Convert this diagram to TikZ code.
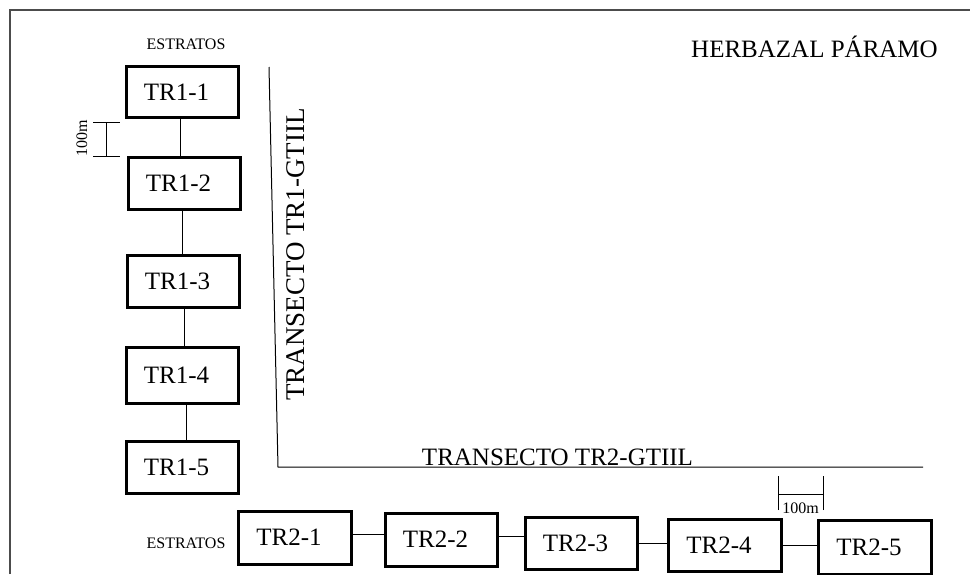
\documentclass[tikz,border=0pt]{standalone}
\usepackage{fontspec}
\setmainfont{Liberation Serif}
\begin{document}
\begin{tikzpicture}[x=1pt,y=-1pt,
  box/.style={draw,line width=3pt,inner sep=0pt,minimum width=112pt,minimum height=52pt,font=\fontsize{25}{25}\selectfont,execute at end node={\hspace*{11pt}}},
  link/.style={line width=0.9pt},
  dim/.style={line width=0.9pt},
  lbl/.style={inner sep=0pt,font=\fontsize{16}{16}\selectfont},
  big/.style={inner sep=0pt,font=\fontsize{25}{25}\selectfont},
  frameline/.style={line width=2pt,draw=black!70}]
\useasboundingbox (0,0) rectangle (970,574);
% frame
\draw[frameline] (10,574) -- (10,10) -- (970,10);
% title
\node[big,anchor=base] (title) at (814.5,57) {HERBAZAL PÁRAMO};
% estratos labels
\node[lbl] (est1) at (186,44) {ESTRATOS};
\node[lbl] (est2) at (186,543) {ESTRATOS};
% TR1 column
\node[box,minimum height=51pt] (a1) at (182,92) {TR1-1};
\node[box] (a2) at (184,183) {TR1-2};
\node[box] (a3) at (183,281) {TR1-3};
\node[box,minimum height=56pt] (a4) at (182,375) {TR1-4};
\node[box] (a5) at (182,467) {TR1-5};
\draw[link] ([xshift=-2pt]a1.south) -- ([xshift=-2pt]a1.south |- a2.north);
\draw[link] ([xshift=-2pt]a2.south) -- ([xshift=-2pt]a2.south |- a3.north);
\draw[link] ([xshift=1pt]a3.south) -- ([xshift=1pt]a3.south |- a4.north);
\draw[link] ([xshift=4pt]a4.south) -- ([xshift=4pt]a4.south |- a5.north);
% TR2 row
\node[box,minimum width=113pt,minimum height=53pt] (b1) at (294.5,537.5) {TR2-1};
\node[box,minimum height=53pt] (b2) at (441,539.5) {TR2-2};
\node[box] (b3) at (581,543) {TR2-3};
\node[box,minimum width=113pt] (b4) at (724.5,545) {TR2-4};
\node[box,minimum width=113pt,minimum height=54pt] (b5) at (874.5,547) {TR2-5};
\draw[link] ([yshift=3pt]b1.east) -- ([yshift=3pt]b1.east -| b2.west);
\draw[link] ([yshift=3pt]b2.east) -- ([yshift=3pt]b2.east -| b3.west);
\draw[link] (b3.east) -- (b3.east -| b4.west);
\draw[link] (b4.east) -- (b4.east -| b5.west);
% transect axes
\coordinate (vt) at (269,67);
\coordinate (corner) at (278,467);
\coordinate (hr) at (923,467);
\draw[line width=1pt] (vt) -- (corner) -- (hr);
\node[inner sep=0pt,font=\fontsize{27}{27}\selectfont,rotate=90] (t1) at (296,254.5) {TRANSECTO TR1-GTIIL};
\node[big,anchor=base] (t2) at (557.5,465) {TRANSECTO TR2-GTIIL};
% dimension marks: vertical
\coordinate (d1a) at (106,122);
\coordinate (d1b) at (106,156);
\draw[dim] (d1a) -- (d1b);
\draw[dim] ([xshift=-13pt]d1a) -- ([xshift=14pt]d1a);
\draw[dim] ([xshift=-13pt]d1b) -- ([xshift=14pt]d1b);
\node[lbl,rotate=90] (m1) at (82,138) {100m};
% dimension marks: horizontal
\coordinate (d2a) at (778,494);
\coordinate (d2b) at (823,494);
\draw[dim] (d2a) -- (d2b);
\draw[dim] ([yshift=-16pt]d2a) -- ([yshift=18pt]d2a);
\draw[dim] ([yshift=-16pt]d2b) -- ([yshift=18pt]d2b);
\node[lbl] (m2) at (800.5,508) {100m};
\end{tikzpicture}
\end{document}
